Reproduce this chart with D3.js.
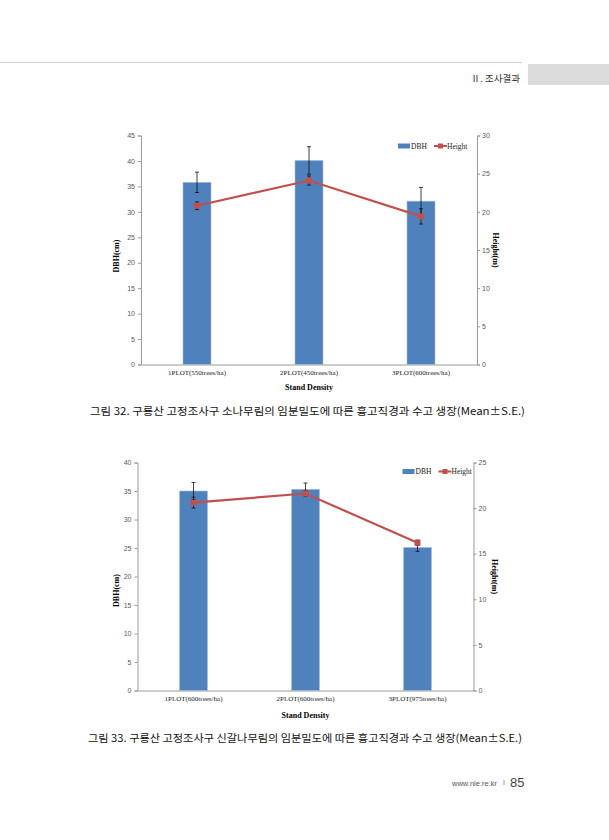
<!DOCTYPE html>
<html>
<head>
<meta charset="utf-8">
<script src="https://cdn.jsdelivr.net/npm/d3@7"></script>
<style>
  body { margin: 0; background: #fff; }
  svg { display: block; }
</style>
</head>
<body>
<div id="page"></div>
<script>
// chart 1 - 소나무림
const categories1 = ["1PLOT(550trees/ha)", "2PLOT(450trees/ha)", "3PLOT(600trees/ha)"];
const dbh1 = [35.8, 40.1, 32.1];
const dbhErr1 = [2.0, 2.7, 2.7];
const height1 = [20.8, 24.1, 19.4];
const heightErr1 = [0.5, 0.6, 1.0];
const dbhTicks1 = [0, 5, 10, 15, 20, 25, 30, 35, 40, 45];
const heightTicks1 = [0, 5, 10, 15, 20, 25, 30];

// chart 2 - 신갈나무림
const categories2 = ["1PLOT(600trees/ha)", "2PLOT(600trees/ha)", "3PLOT(975trees/ha)"];
const dbh2 = [35.0, 35.3, 25.1];
const dbhErr2 = [1.5, 1.1, 0.7];
const height2 = [20.6, 21.6, 16.2];
const heightErr2 = [0.6, 0.3, 0.3];
const dbhTicks2 = [0, 5, 10, 15, 20, 25, 30, 35, 40];
const heightTicks2 = [0, 5, 10, 15, 20, 25];

const captions = [
  "그림 32. 구룡산 고정조사구 소나무림의 임분밀도에 따른 흉고직경과 수고 생장(Mean±S.E.)",
  "그림 33. 구룡산 고정조사구 신갈나무림의 임분밀도에 따른 흉고직경과 수고 생장(Mean±S.E.)"
];

const W = 609, H = 840;
const barColor = "#4f81bd";
const lineColor = "#c0504d";
const serif = "'Liberation Serif', 'DejaVu Serif', serif";
const sans = "'Liberation Sans', Arial, sans-serif";
const kr = "'Noto Sans CJK KR', 'Noto Sans', sans-serif";

const svg = d3.select("#page").append("svg")
  .attr("width", W)
  .attr("height", H);

// page header
svg.append("line")
  .attr("x1", 0).attr("x2", 522).attr("y1", 62.5).attr("y2", 62.5)
  .style("stroke", "#d0d0d0").style("stroke-width", 1);
svg.append("rect")
  .attr("x", 528).attr("y", 64).attr("width", 81).attr("height", 21)
  .style("fill", "#dcdcdc");
svg.append("text")
  .attr("x", 520).attr("y", 82)
  .attr("text-anchor", "end")
  .style("font-family", kr).style("font-size", "9.5px").style("fill", "#333")
  .text("Ⅱ. 조사결과");

function drawChart(cfg) {
  var g = svg.append("g").attr("transform", "translate(" + cfg.left + "," + cfg.top + ")");
  var w = cfg.plotW, h = cfg.plotH;

  var x = d3.scaleBand().domain(cfg.categories).range([0, w]).padding(0);
  var yL = d3.scaleLinear().domain([0, d3.max(cfg.dbhTicks)]).range([h, 0]);
  var yR = d3.scaleLinear().domain([0, d3.max(cfg.heightTicks)]).range([h, 0]);
  var bw = x.bandwidth() * 0.25;
  var cx = function (i) { return x(cfg.categories[i]) + x.bandwidth() / 2; };

  // axes
  var leftAxis = g.append("g").call(d3.axisLeft(yL).tickValues(cfg.dbhTicks).tickSize(3).tickPadding(3));
  var rightAxis = g.append("g").attr("transform", "translate(" + w + ",0)")
    .call(d3.axisRight(yR).tickValues(cfg.heightTicks).tickSize(3).tickPadding(2));
  var bottomAxis = g.append("g").attr("transform", "translate(0," + h + ")")
    .call(d3.axisBottom(x).tickSize(0).tickPadding(6));

  [leftAxis, rightAxis, bottomAxis].forEach(function (a) {
    a.select(".domain").style("stroke", "#9a9a9a");
    a.selectAll(".tick line").style("stroke", "#9a9a9a");
  });
  [leftAxis, rightAxis].forEach(function (a) {
    a.selectAll(".tick text")
      .style("font-family", sans).style("font-size", "7px").style("fill", "#595959");
  });
  bottomAxis.selectAll(".tick text")
    .style("font-family", serif).style("font-size", "7px").style("fill", "#222");

  // bars
  g.selectAll("rect.bar")
    .data(cfg.dbh)
    .enter().append("rect")
    .attr("class", "bar")
    .attr("x", function (d, i) { return cx(i) - bw / 2; })
    .attr("y", function (d) { return yL(d); })
    .attr("width", bw)
    .attr("height", function (d) { return h - yL(d); })
    .style("fill", barColor)
    .style("stroke", "#a7c0de")
    .style("stroke-width", 0.6);

  // error bars
  function errBars(vals, errs, scale) {
    var eg = g.append("g");
    vals.forEach(function (v, i) {
      var x0 = cx(i), t = scale(v + errs[i]), b = scale(v - errs[i]);
      eg.append("line").attr("x1", x0).attr("x2", x0).attr("y1", t).attr("y2", b);
      eg.append("line").attr("x1", x0 - 2).attr("x2", x0 + 2).attr("y1", t).attr("y2", t);
      eg.append("line").attr("x1", x0 - 2).attr("x2", x0 + 2).attr("y1", b).attr("y2", b);
    });
    eg.selectAll("line").style("stroke", "#111").style("stroke-width", 0.8);
  }
  errBars(cfg.dbh, cfg.dbhErr, yL);

  // height line
  var line = d3.line()
    .x(function (d, i) { return cx(i); })
    .y(function (d) { return yR(d); });
  g.append("path")
    .datum(cfg.height)
    .attr("d", line)
    .style("fill", "none")
    .style("stroke", lineColor)
    .style("stroke-width", 2.2);
  errBars(cfg.height, cfg.heightErr, yR);
  g.selectAll("rect.mark")
    .data(cfg.height)
    .enter().append("rect")
    .attr("class", "mark")
    .attr("x", function (d, i) { return cx(i) - 3; })
    .attr("y", function (d) { return yR(d) - 3; })
    .attr("width", 6).attr("height", 6)
    .style("fill", lineColor);

  // axis titles
  g.append("text")
    .attr("transform", "translate(" + cfg.leftTitleX + "," + (h / 2 + cfg.leftTitleDy) + ") rotate(-90)")
    .attr("text-anchor", "middle")
    .style("font-family", serif).style("font-size", "8px").style("font-weight", "bold")
    .text("DBH(cm)");
  g.append("text")
    .attr("transform", "translate(" + (w + cfg.rightTitleX) + "," + (h / 2 + cfg.rightTitleDy) + ") rotate(90)")
    .attr("text-anchor", "middle")
    .style("font-family", serif).style("font-size", "8px").style("font-weight", "bold")
    .text("Height(m)");
  g.append("text")
    .attr("x", w / 2).attr("y", h + cfg.xTitleDy)
    .attr("text-anchor", "middle")
    .style("font-family", serif).style("font-size", "8px").style("font-weight", "bold")
    .text("Stand Density");

  // legend
  var lg = g.append("g").attr("transform", "translate(" + cfg.legendX + "," + cfg.legendY + ")");
  lg.append("rect").attr("x", 0).attr("y", -2.5).attr("width", 12).attr("height", 5).style("fill", barColor);
  lg.append("text").attr("x", 13).attr("y", 2.8)
    .style("font-family", serif).style("font-size", "7.5px").style("fill", "#222").text("DBH");
  lg.append("line").attr("x1", 36).attr("x2", 49).attr("y1", 0).attr("y2", 0)
    .style("stroke", lineColor).style("stroke-width", 2);
  lg.append("rect").attr("x", 40).attr("y", -2.5).attr("width", 5).attr("height", 5).style("fill", lineColor);
  lg.append("text").attr("x", 49).attr("y", 2.8)
    .style("font-family", serif).style("font-size", "7.5px").style("fill", "#222").text("Height");

  // caption
  svg.append("text")
    .attr("x", cfg.captionX).attr("y", cfg.captionY)
    .attr("textLength", cfg.captionW).attr("lengthAdjust", "spacingAndGlyphs")
    .style("font-family", kr).style("font-size", "10.5px").style("fill", "#111")
    .text(cfg.caption);
}

drawChart({
  left: 141, top: 135.5, plotW: 336, plotH: 229,
  categories: categories1, dbh: dbh1, dbhErr: dbhErr1, height: height1, heightErr: heightErr1,
  dbhTicks: dbhTicks1, heightTicks: heightTicks1,
  leftTitleX: -22, leftTitleDy: 6, rightTitleX: 16, rightTitleDy: 0, xTitleDy: 25,
  legendX: 257, legendY: 10.5,
  caption: captions[0], captionX: 90, captionY: 415, captionW: 435
});

drawChart({
  left: 137.5, top: 462.5, plotW: 336, plotH: 228,
  categories: categories2, dbh: dbh2, dbhErr: dbhErr2, height: height2, heightErr: heightErr2,
  dbhTicks: dbhTicks2, heightTicks: heightTicks2,
  leftTitleX: -19, leftTitleDy: 14, rightTitleX: 18, rightTitleDy: 0, xTitleDy: 27,
  legendX: 265, legendY: 9,
  caption: captions[1], captionX: 88, captionY: 742, captionW: 434
});

// footer
svg.append("text")
  .attr("x", 497).attr("y", 786)
  .attr("text-anchor", "end")
  .style("font-family", sans).style("font-size", "7.5px").style("fill", "#555")
  .text("www.nie.re.kr");
svg.append("line")
  .attr("x1", 504).attr("x2", 504).attr("y1", 780).attr("y2", 785)
  .style("stroke", "#888").style("stroke-width", 0.8);
svg.append("text")
  .attr("x", 510).attr("y", 787)
  .style("font-family", sans).style("font-size", "13px").style("fill", "#444")
  .text("85");
</script>
</body>
</html>
